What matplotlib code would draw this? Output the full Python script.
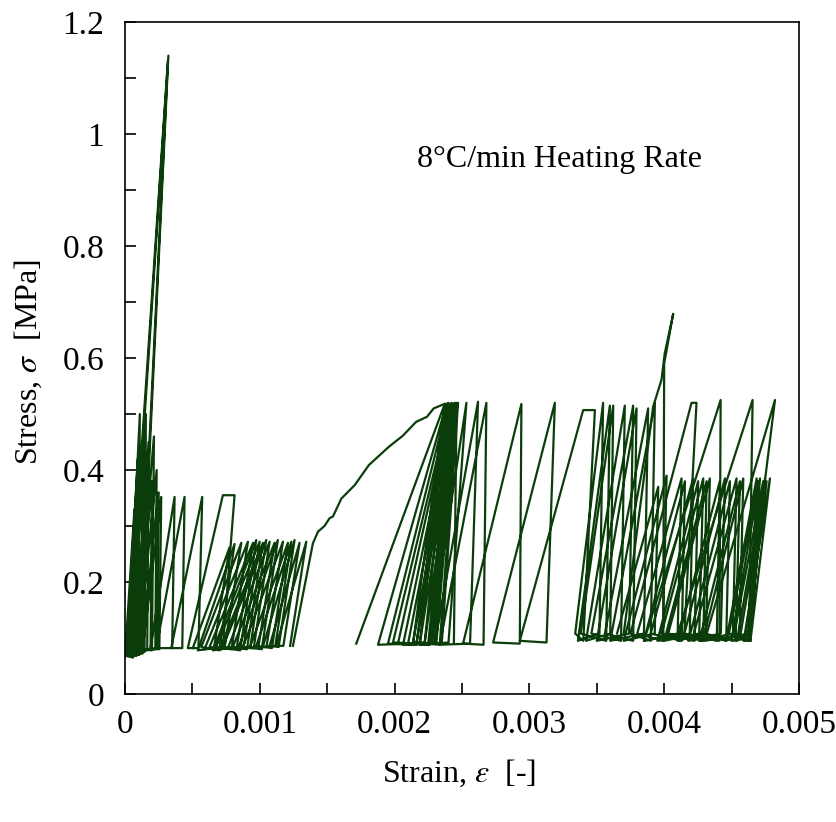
import matplotlib
matplotlib.use("Agg")
import matplotlib.pyplot as plt
from matplotlib.ticker import MultipleLocator

plt.rcParams["font.family"] = ["Liberation Serif", "DejaVu Serif"]
plt.rcParams["mathtext.fontset"] = "stix"

# ==================================
# DATA (strain in microstrain, stress in MPa)
# one entry per load / unload cycle:
# start of loading -> peak (held until cyc_hold) -> end of unloading
# ==================================

cyc_group = [0] * 18 + [1] * 18 + [2] * 29 + [3] * 22

cyc_start = [
    # early high cycles
    0, 10, 20, 25, 30, 40, 50, 60, 70, 80, 90, 100, 120, 130, 190, 232, 343, 466,
    # 0.27 MPa cycles
    503, 540, 566, 590, 627, 652, 677, 702, 726, 763, 800, 837, 875, 924, 974, 1023, 1073, 1122,
    # 0.52 MPa cycles
    1716, 1877, 1951, 1988, 2025, 2063, 2100, 2137, 2162, 2186, 2223, 2261, 2298, 2335, 2508,
    2731, 2929, 3340, 3360, 3380, 3420, 3460, 3500, 3560, 3600, 3750, 3850, 4100, 4300,
    # 0.38 MPa cycles
    3650, 3700, 3800, 3850, 3900, 3950, 3980, 4000, 4030, 4100, 4150, 4180, 4220, 4260, 4300,
    4460, 4480, 4500, 4520, 4540, 4560, 4590,
]

cyc_peak = [
    70, 95, 318, 110, 322, 140, 155, 130, 175, 215, 200, 235, 250, 269, 368, 442, 573, 726,
    776, 813, 863, 912, 950, 974, 999, 1023, 1048, 1073, 1110, 1134, 1172, 1209, 1234, 1258, 1295, 1345,
    2372, 2385, 2397, 2410, 2422, 2434, 2446, 2452, 2458, 2465, 2471, 2533, 2619, 2681, 2941,
    3189, 3399, 3547, 3597, 3622, 3708, 3770, 3795, 3881, 3931, 4203, 4419, 4656, 4822,
    3956, 4018, 4129, 4154, 4215, 4252, 4290, 4315, 4339, 4413, 4451, 4488, 4537, 4562, 4587,
    4686, 4699, 4711, 4735, 4748, 4760, 4785,
]

cyc_hold = [
    70, 95, 318, 110, 322, 140, 155, 130, 175, 215, 200, 235, 250, 269, 368, 442, 573, 813,
    776, 813, 863, 912, 950, 974, 999, 1023, 1048, 1073, 1110, 1134, 1172, 1209, 1234, 1258, 1295, 1345,
    2372, 2385, 2397, 2410, 2422, 2434, 2446, 2452, 2458, 2465, 2471, 2533, 2619, 2681, 2941,
    3189, 3486, 3547, 3597, 3622, 3708, 3770, 3795, 3881, 3931, 4240, 4419, 4656, 4822,
    3956, 4018, 4129, 4154, 4215, 4252, 4290, 4315, 4339, 4413, 4451, 4488, 4537, 4562, 4587,
    4686, 4699, 4711, 4735, 4748, 4760, 4785,
]

cyc_top = [
    0.33, 0.42, 1.13, 0.50, 1.14, 0.45, 0.50, 0.40, 0.45, 0.46, 0.38, 0.40, 0.36, 0.352, 0.352, 0.352, 0.352, 0.355,
    0.262, 0.268, 0.27, 0.272, 0.27, 0.275, 0.272, 0.27, 0.275, 0.272, 0.27, 0.275, 0.272, 0.27, 0.272, 0.275, 0.27, 0.272,
    0.518, 0.518, 0.52, 0.515, 0.52, 0.518, 0.52, 0.515, 0.52, 0.518, 0.52, 0.52, 0.522, 0.52, 0.518,
    0.52, 0.507, 0.52, 0.515, 0.515, 0.515, 0.515, 0.51, 0.51, 0.52, 0.52, 0.525, 0.525, 0.525,
    0.37, 0.39, 0.385, 0.38, 0.385, 0.38, 0.385, 0.38, 0.385, 0.38, 0.385, 0.38, 0.385, 0.38, 0.385,
    0.385, 0.38, 0.385, 0.38, 0.385, 0.38, 0.385,
]

cyc_end = [
    60, 85, 105, 100, 112, 130, 145, 120, 165, 200, 190, 225, 240, 255, 350, 425, 545, 725,
    660, 700, 740, 790, 830, 855, 880, 905, 930, 955, 990, 1015, 1050, 1090, 1115, 1140, 1175, 1225,
    2137, 2162, 2186, 2223, 2250, 2261, 2280, 2298, 2310, 2335, 2350, 2400, 2560, 2660, 2929,
    3127, 3400, 3520, 3570, 3600, 3680, 3740, 3770, 3850, 3900, 4150, 4410, 4630, 4600,
    3930, 3990, 4100, 4130, 4190, 4225, 4260, 4290, 4310, 4390, 4420, 4460, 4510, 4530, 4560,
    4640, 4640, 4620, 4640, 4630, 4620, 4640,
]

cyc_base = [
    0.065, 0.068, 0.07, 0.07, 0.072, 0.072, 0.075, 0.075, 0.078, 0.078, 0.08, 0.08, 0.08, 0.08, 0.082, 0.082, 0.082, 0.082,
    0.082, 0.078, 0.084, 0.08, 0.084, 0.078, 0.084, 0.08, 0.084, 0.082, 0.084, 0.08, 0.084, 0.082, 0.086, 0.084, 0.086, 0.086,
    0.09, 0.088, 0.09, 0.092, 0.09, 0.088, 0.09, 0.092, 0.09, 0.088, 0.09, 0.092, 0.09, 0.088, 0.09,
    0.092, 0.095, 0.108, 0.095, 0.108, 0.095, 0.108, 0.095, 0.108, 0.095, 0.108, 0.095, 0.108, 0.095,
    0.108, 0.095, 0.108, 0.095, 0.108, 0.095, 0.108, 0.095, 0.108, 0.095, 0.108, 0.095, 0.108, 0.095, 0.108,
    0.095, 0.108, 0.095, 0.108, 0.095, 0.098, 0.095,
]

# long transition loading from the 0.27 MPa stage up to 0.52 MPa
trans_strain = [1246, 1394, 1432, 1480, 1518, 1543, 1605, 1704, 1810, 1960, 2060, 2160, 2240, 2290, 2370, 2460, 2440]
trans_stress = [0.086, 0.269, 0.29, 0.30, 0.314, 0.317, 0.349, 0.373, 0.409, 0.442, 0.461, 0.486, 0.495, 0.51, 0.518, 0.519, 0.09]

# isolated overshoot near 0.004
spike_strain = [3700, 3918, 3980, 4004, 4067, 4000, 3993]
spike_stress = [0.108, 0.513, 0.561, 0.608, 0.679, 0.59, 0.108]

x_ticks = [0, 0.001, 0.002, 0.003, 0.004, 0.005]
x_tick_labels = ["0", "0.001", "0.002", "0.003", "0.004", "0.005"]
y_ticks = [0, 0.2, 0.4, 0.6, 0.8, 1.0, 1.2]
y_tick_labels = ["0", "0.2", "0.4", "0.6", "0.8", "1", "1.2"]

LINE_COLOR = "#0b3d0b"
FS = 23

# ==================================
# PLOT
# ==================================

fig = plt.figure(figsize=(8.36, 8.22), dpi=100)
ax = fig.add_axes([0.1495, 0.1557, 0.8062, 0.8175])

for g in sorted(set(cyc_group)):
    xs, ys = [], []
    for i, gi in enumerate(cyc_group):
        if gi != g:
            continue
        xs += [cyc_start[i], cyc_peak[i], cyc_hold[i], cyc_end[i]]
        ys += [cyc_base[i], cyc_top[i], cyc_top[i], cyc_base[i]]
    ax.plot([v * 1e-6 for v in xs], ys, color=LINE_COLOR, lw=1.6)

ax.plot([v * 1e-6 for v in trans_strain], trans_stress, color=LINE_COLOR, lw=1.6)
ax.plot([v * 1e-6 for v in spike_strain], spike_stress, color=LINE_COLOR, lw=1.6)

ax.text(0.003226, 0.954, "8°C/min Heating Rate", fontsize=FS,
        ha="center", va="center")

ax.set_xlim(0, 0.005)
ax.set_ylim(0, 1.2)
ax.set_xticks(x_ticks)
ax.set_xticklabels(x_tick_labels)
ax.set_yticks(y_ticks)
ax.set_yticklabels(y_tick_labels)
ax.xaxis.set_minor_locator(MultipleLocator(0.0005))
ax.yaxis.set_minor_locator(MultipleLocator(0.1))

ax.tick_params(which="both", direction="in", length=8, width=1.2,
               top=False, right=False, labelsize=24)
ax.tick_params(axis="x", which="major", pad=11)
ax.tick_params(axis="y", which="major", pad=15)

for side in ["left", "right", "top", "bottom"]:
    ax.spines[side].set_linewidth(1.2)

ax.set_xlabel(r"Strain, $\varepsilon$  [-]", fontsize=FS)
ax.set_ylabel(r"Stress, $\sigma$  [MPa]", fontsize=FS)
ax.xaxis.set_label_coords(0.496, -0.095)
ax.yaxis.set_label_coords(-0.12, 0.494)

fig.savefig("out.png", dpi=100)
